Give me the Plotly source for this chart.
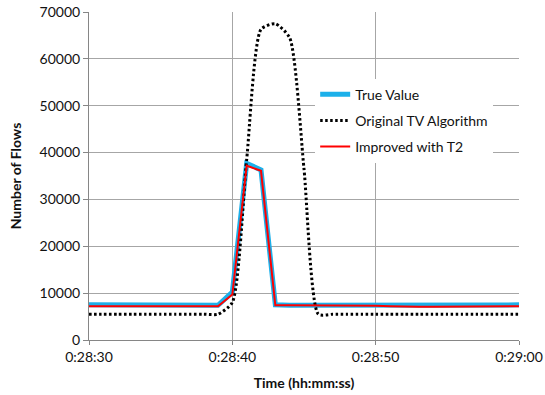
import plotly.graph_objects as go

# time in seconds after 0:28:00
seconds = list(range(30, 61))
true_value = [7500, 7500, 7450, 7400, 7400, 7450, 7450, 7400, 7400, 7400,
              10200, 37700, 36300, 7500, 7400, 7400, 7400, 7400, 7400, 7450,
              7400, 7350, 7400, 7400, 7500, 7550, 7400, 7450, 7450, 7300, 7500]
original_tv = [5500, 5500, 5500, 5500, 5500, 5500, 5500, 5500, 5500, 5500,
               8000, 38500, 66300, 67500, 64500, 36500, 5500,
               5500, 5500, 5500, 5500, 5500, 5500, 5500, 5500, 5500, 5500,
               5500, 5500, 5500, 5500]
improved_t2 = [7200, 7200, 7200, 7200, 7200, 7200, 7200, 7200, 7200, 7200,
               9700, 37200, 36100, 7400, 7400, 7400, 7400, 7400, 7400, 7350,
               7300, 7200, 7100, 7100, 7100, 7100, 7100, 7100, 7100, 7100, 7200]
x_tickvals = [30, 40, 50, 60]
x_ticktext = ["0:28:30", "0:28:40", "0:28:50", "0:29:00"]

FONT = "Lato"
grid = "#a6a6a6"

fig = go.Figure()
fig.add_trace(go.Scatter(x=seconds, y=true_value, mode="lines", name="True Value",
                         legendgroup="a",
                         line=dict(color="#1cb0ea", width=5)))
fig.add_trace(go.Scatter(x=seconds, y=original_tv, mode="lines", name="Original TV Algorithm",
                         legendgroup="b",
                         line=dict(color="#000000", width=3, dash="2.5px,2.5px",
                                   shape="spline", smoothing=0.6)))
fig.add_trace(go.Scatter(x=seconds, y=improved_t2, mode="lines", name="Improved with T2",
                         legendgroup="c",
                         line=dict(color="#ff0000", width=2)))

fig.update_layout(
    width=545, height=395,
    margin=dict(l=89, r=26, t=12, b=55),
    paper_bgcolor="white", plot_bgcolor="white",
    font=dict(family=FONT, size=14, color="#111111"),
    legend=dict(x=0.526, y=0.797, xanchor="left", yanchor="top",
                bgcolor="white", borderwidth=0, tracegroupgap=5,
                font=dict(family=FONT, size=14, color="#111111")),
    xaxis=dict(range=[30, 60], tickvals=x_tickvals, ticktext=x_ticktext,
               showgrid=True, gridcolor=grid, gridwidth=1,
               showline=True, linecolor="#868686", linewidth=1,
               ticks="outside", ticklen=4, tickcolor="#868686",
               zeroline=False, automargin=False,
               title=dict(text="<b>Time (hh:mm:ss)</b>", font=dict(size=14), standoff=14)),
    yaxis=dict(range=[0, 70000], dtick=10000, tickformat="d",
               showgrid=True, gridcolor=grid, gridwidth=1,
               showline=True, linecolor="#868686", linewidth=1,
               ticks="outside", ticklen=5, tickcolor="#868686",
               zeroline=False, automargin=False,
               title=dict(text="<b>Number of Flows</b>", font=dict(size=14), standoff=14)),
)

fig.write_html("out.html")
